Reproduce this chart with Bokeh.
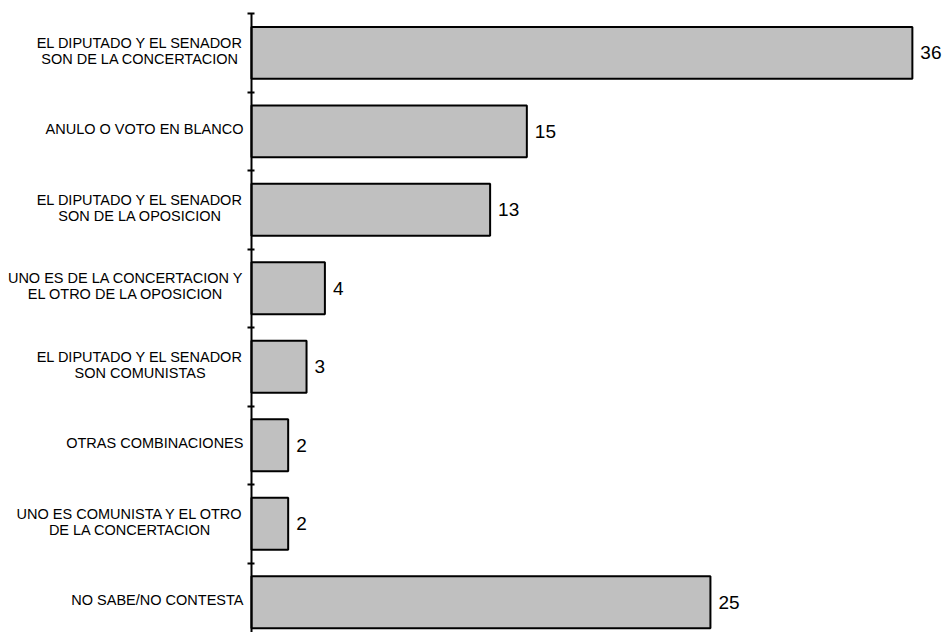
from bokeh.plotting import figure
from bokeh.models import Range1d, LinearAxis, FixedTicker, ColumnDataSource
from bokeh.core.properties import value
from bokeh.embed import file_html
from bokeh.resources import INLINE

categories = [
    "EL DIPUTADO Y EL SENADOR\nSON DE LA CONCERTACION",
    "ANULO O VOTO EN BLANCO",
    "EL DIPUTADO Y EL SENADOR\nSON DE LA OPOSICION",
    "UNO ES DE LA CONCERTACION Y\nEL OTRO DE LA OPOSICION",
    "EL DIPUTADO Y EL SENADOR\nSON COMUNISTAS",
    "OTRAS COMBINACIONES",
    "UNO ES COMUNISTA Y EL OTRO\nDE LA CONCERTACION",
    "NO SABE/NO CONTESTA",
]
values = [36, 15, 13, 4, 3, 2, 2, 25]

positions = [i + 0.5 for i in range(len(categories))]
boundaries = list(range(len(categories) + 1))

src = ColumnDataSource(dict(y=positions, v=values, lbl=[str(v) for v in values],
                            cat=categories, zero=[0] * len(values)))

p = figure(width=944, height=632, output_backend="svg", toolbar_location=None,
           x_range=Range1d(-13.67, 37.75), y_range=Range1d(7.885, -0.166),
           min_border_left=0, min_border_top=0, min_border_bottom=0, min_border_right=0,
           x_axis_type=None, y_axis_type=None)
p.outline_line_color = None
p.xgrid.visible = False
p.ygrid.visible = False

p.hbar(y="y", right="v", left=0, height=0.66, source=src,
       fill_color="#C0C0C0", line_color="black", line_width=2)

ax = LinearAxis(ticker=FixedTicker(ticks=boundaries, minor_ticks=[]),
                fixed_location=0, bounds=(0, 8))
ax.axis_line_width = 2
ax.axis_line_color = "black"
ax.major_tick_line_width = 2
ax.major_tick_out = 4
ax.major_tick_in = 3
ax.major_label_text_font_size = "0px"
ax.major_label_text_color = None
ax.major_label_standoff = 0
p.add_layout(ax, "left")

p.text(x="zero", y="y", text="cat", source=src, x_offset=-8, y_offset=-2,
       text_align="center", anchor=value("center_right"), text_baseline="middle",
       text_font=value("Liberation Sans"), text_font_size="14.5px",
       text_color="black", text_line_height=1.0)

p.text(x="v", y="y", text="lbl", source=src, x_offset=8,
       text_align="left", text_baseline="middle",
       text_font=value("Liberation Sans"), text_font_size="19px",
       text_color="black")

open("out.html", "w").write(file_html(p, INLINE))
